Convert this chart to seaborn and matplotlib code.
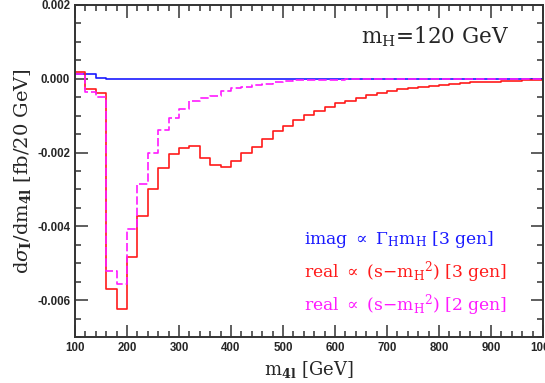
import numpy as np
import pandas as pd
import seaborn as sns
from matplotlib import pyplot as plt
from matplotlib.ticker import MultipleLocator, FormatStrFormatter

# 20 GeV bins from 100 to 1000 GeV
bin_edges = list(range(100, 1001, 20))

imag_3gen = [0.00013, 0.00013, 0.00001, 0.0, 0.0, 0.0, 0.0, 0.0,
             0.0, 0.0, 0.0, 0.0, 0.0, 0.0, 0.0, 0.0, 0.0, 0.0, 0.0, 0.0, 0.0, 0.0, 0.0,
             0.0, 0.0, 0.0, 0.0, 0.0, 0.0, 0.0, 0.0, 0.0, 0.0, 0.0, 0.0, 0.0, 0.0, 0.0,
             0.0, 0.0, 0.0, 0.0, 0.0, 0.0, 0.0]

real_3gen = [0.00017, -0.00028, -0.00039, -0.0057, -0.00625, -0.00483, -0.00372, -0.00298,
             -0.00241, -0.00205, -0.00187, -0.00181, -0.00214, -0.00234, -0.00239, -0.00223,
             -0.00201, -0.00186, -0.00163, -0.00142, -0.00127, -0.00113, -0.00098, -0.00086,
             -0.00077, -0.00067, -0.00059, -0.00052, -0.00045, -0.00039, -0.00033, -0.00029,
             -0.00025, -0.00022, -0.00019, -0.00016, -0.00014, -0.00012, -0.0001, -0.00009,
             -0.00008, -0.00007, -0.00005, -0.00004, -0.00003]

real_2gen = [0.00013, -0.00036, -0.0005, -0.0052, -0.00557, -0.00408, -0.00285, -0.00201,
             -0.0014, -0.00106, -0.00082, -0.0006, -0.00052, -0.00048, -0.00032, -0.00026,
             -0.00023, -0.00018, -0.00014, -0.00009, -0.00005, -0.00004, -0.00003, -0.00003,
             -0.00002, -0.00002, -0.00001, -0.00001, -0.00001, -0.00001, 0.0, 0.0, 0.0, 0.0,
             0.0, 0.0, 0.0, 0.0, 0.0, 0.0, 0.0, 0.0, 0.0, 0.0, 0.0]

labels = [r'imag $\propto$ $\Gamma_\mathrm{H}\mathrm{m}_\mathrm{H}$ [3 gen]',
          r'real $\propto$ (s$-\mathrm{m}_\mathrm{H}{}^{2}$) [3 gen]',
          r'real $\propto$ (s$-\mathrm{m}_\mathrm{H}{}^{2}$) [2 gen]']
colors = ['#1a1aff', '#ff1a1a', '#ff1aff']

sns.set_style('ticks')
plt.rcParams['mathtext.fontset'] = 'dejavuserif'

centers = np.array(bin_edges[:-1]) + 10
df = pd.DataFrame({'m4l': np.tile(centers, 3),
                   'w': imag_3gen + real_3gen + real_2gen,
                   'curve': np.repeat(['imag3', 'real3', 'real2'], len(centers))})

fig = plt.figure(figsize=(5.45, 3.83), dpi=100)
ax = fig.add_axes([0.1376, 0.12, 0.8587, 0.867])

for name, col, ls in [('imag3', colors[0], '-'), ('real3', colors[1], '-'), ('real2', colors[2], (0, (5, 1.8)))]:
    sub = df[df['curve'] == name]
    sns.histplot(x=sub['m4l'], weights=sub['w'], bins=bin_edges, element='step', fill=False,
                 color=col, linewidth=1.2, linestyle=ls, ax=ax)

ax.set_xlim(100, 1000)
ax.set_ylim(-0.007, 0.002)
ax.xaxis.set_major_locator(MultipleLocator(100))
ax.xaxis.set_minor_locator(MultipleLocator(20))
ax.yaxis.set_major_locator(MultipleLocator(0.002))
ax.yaxis.set_minor_locator(MultipleLocator(0.0005))
ax.yaxis.set_major_formatter(FormatStrFormatter('%.3f'))
ax.tick_params(which='both', direction='in', top=True, right=True, width=1.1, color='#333333')
ax.tick_params(which='major', length=9, labelsize=8.3)
ax.tick_params(which='minor', length=4.5)
for lab in ax.get_xticklabels() + ax.get_yticklabels():
    lab.set_fontfamily('Liberation Sans')
    lab.set_fontweight('bold')
for sp in ax.spines.values():
    sp.set_linewidth(1.4)
    sp.set_color('#333333')

ax.set_xlabel(r'm$_\mathbf{4l}$ [GeV]', fontsize=13, family='DejaVu Serif', labelpad=4)
ax.set_ylabel(r'd$\sigma_\mathbf{I}$/dm$_\mathbf{4l}$ [fb/20 GeV]', fontsize=14, family='DejaVu Serif', labelpad=3)

ax.text(0.612, 0.905, r'm$_\mathrm{H}$=120 GeV', transform=ax.transAxes, fontsize=15.5,
        family='DejaVu Serif', va='center')
for i, (txt, col) in enumerate(zip(labels, colors)):
    ax.text(0.49, 0.295 - i * 0.1, txt, transform=ax.transAxes, fontsize=12.3,
            family='DejaVu Serif', color=col, va='center')

plt.savefig('out.png', dpi=100)
